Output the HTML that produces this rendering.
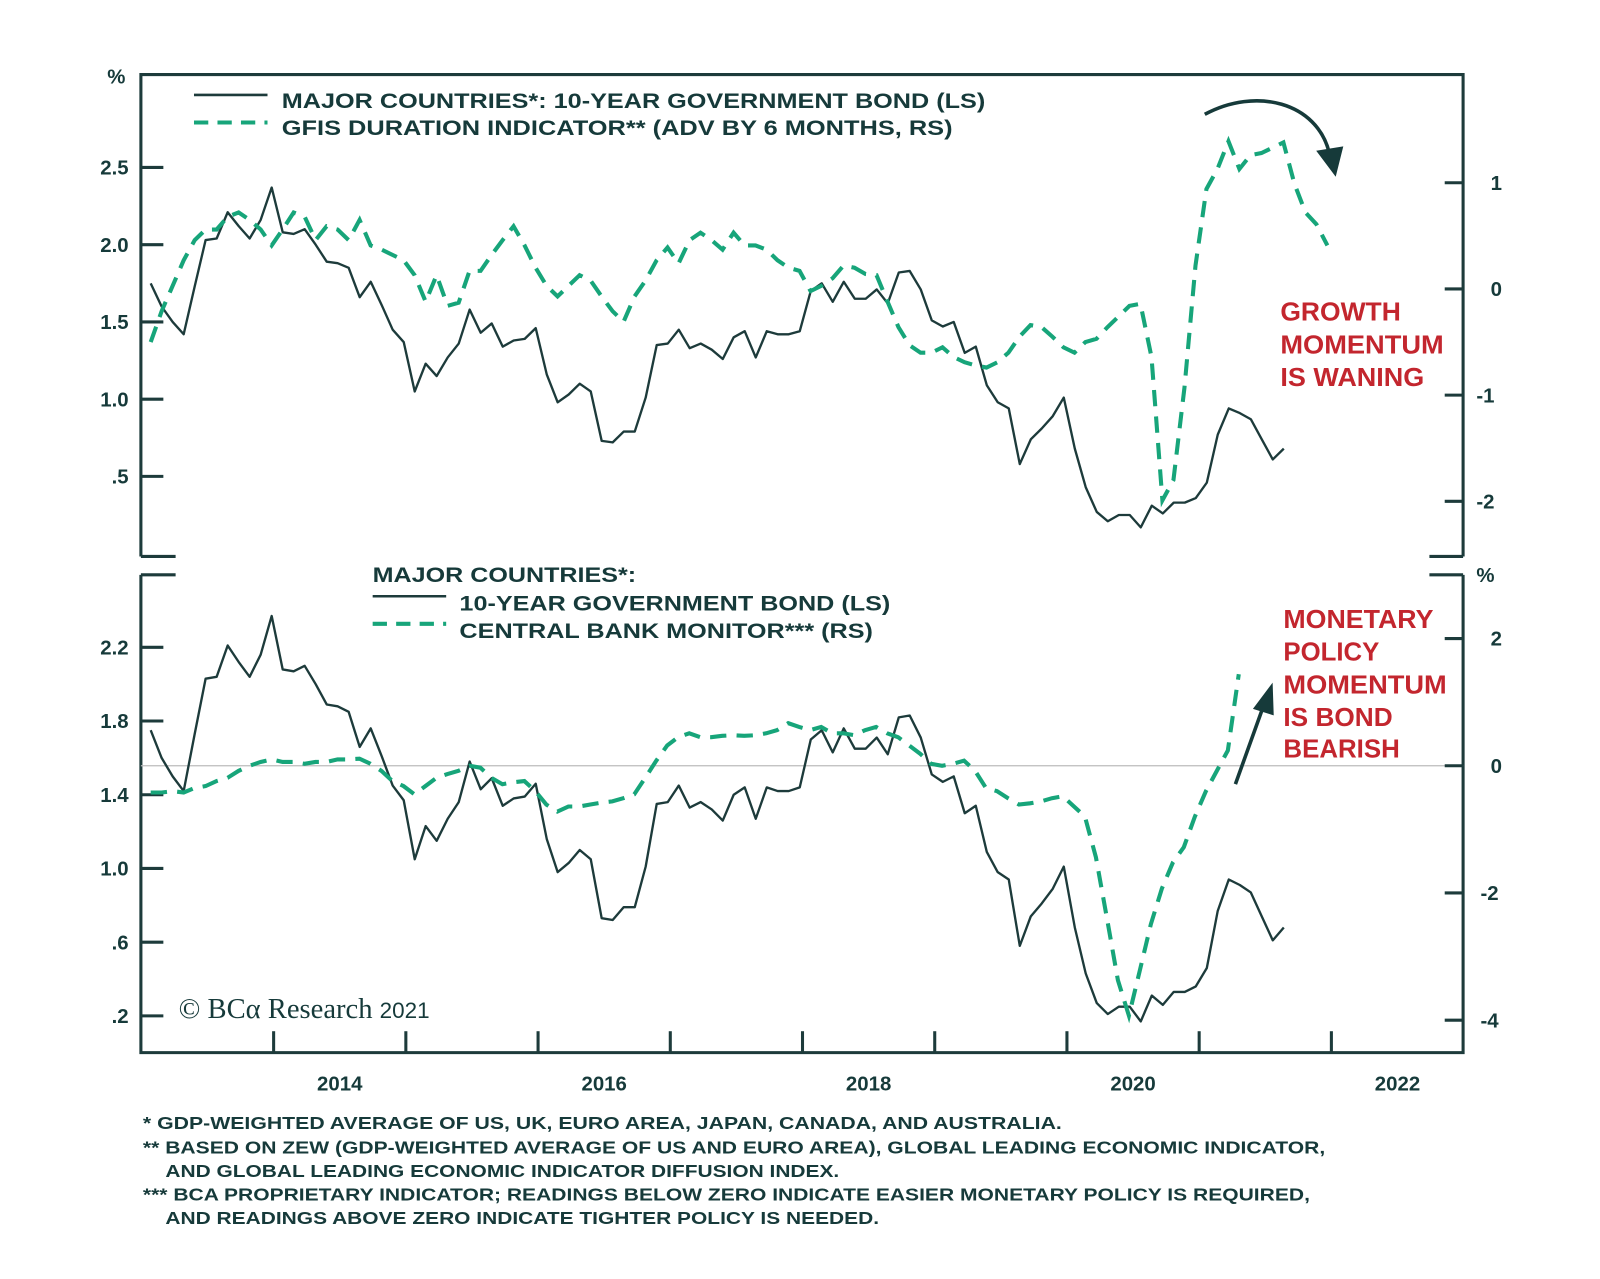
<!DOCTYPE html>
<html><head><meta charset="utf-8">
<style>
html,body{margin:0;padding:0;background:#fff;}
svg{display:block;font-family:"Liberation Sans",sans-serif;}
.ax{fill:#163a3a;font-weight:bold;font-size:20px;}
.lg{fill:#163a3a;font-weight:bold;font-size:21px;}
.fn{fill:#163a3a;font-size:17px;font-weight:bold;}
.red{fill:#c3262e;font-weight:bold;font-size:25px;}
</style></head>
<body>
<svg id="chart" width="1600" height="1279" viewBox="0 0 1600 1279">
<g transform="scale(1.021)">
<g id="frame" stroke="#1d3b3b" stroke-width="3" fill="none">
 <path d="M138,545 L138,73 L1433,73 L1433,545"/>
 <path d="M138,563 L138,1031 L1433,1031 L1433,563"/>
 <path d="M138,545 L172,545 M138,563 L172,563 M1400,545 L1433,545 M1400,563 L1433,563"/>
</g>
<line x1="138" x2="1433" y1="750" y2="750" stroke="#bbb" stroke-width="1.2"/>
<g id="ticks"></g>
<g id="series"></g>
<text class="ax" x="105" y="82">%</text>
<text class="ax" x="1446" y="570">%</text>
<g>
 <line x1="190" x2="262" y1="93" y2="93" stroke="#1d3b3b" stroke-width="2.5"/>
 <line x1="190" x2="262" y1="120" y2="120" stroke="#17a57a" stroke-width="4" stroke-dasharray="14,9"/>
 <text class="lg" x="276" y="106" textLength="689" lengthAdjust="spacingAndGlyphs">MAJOR COUNTRIES*: 10-YEAR GOVERNMENT BOND (LS)</text>
 <text class="lg" x="276" y="132" textLength="657" lengthAdjust="spacingAndGlyphs">GFIS DURATION INDICATOR** (ADV BY 6 MONTHS, RS)</text>
</g>
<g>
 <text class="lg" x="365" y="570" textLength="258" lengthAdjust="spacingAndGlyphs">MAJOR COUNTRIES*:</text>
 <line x1="365" x2="437" y1="584" y2="584" stroke="#1d3b3b" stroke-width="2.5"/>
 <line x1="365" x2="437" y1="611" y2="611" stroke="#17a57a" stroke-width="4" stroke-dasharray="14,9"/>
 <text class="lg" x="450" y="598" textLength="422" lengthAdjust="spacingAndGlyphs">10-YEAR GOVERNMENT BOND (LS)</text>
 <text class="lg" x="450" y="625" textLength="405" lengthAdjust="spacingAndGlyphs">CENTRAL BANK MONITOR*** (RS)</text>
</g>
<g>
 <text class="red" x="1254" y="314" textLength="118" lengthAdjust="spacingAndGlyphs">GROWTH</text>
 <text class="red" x="1254" y="346" textLength="160" lengthAdjust="spacingAndGlyphs">MOMENTUM</text>
 <text class="red" x="1254" y="378" textLength="141" lengthAdjust="spacingAndGlyphs">IS WANING</text>
</g>
<g>
 <text class="red" x="1257" y="615" textLength="147" lengthAdjust="spacingAndGlyphs">MONETARY</text>
 <text class="red" x="1257" y="647" textLength="94" lengthAdjust="spacingAndGlyphs">POLICY</text>
 <text class="red" x="1257" y="679" textLength="160" lengthAdjust="spacingAndGlyphs">MOMENTUM</text>
 <text class="red" x="1257" y="711" textLength="107" lengthAdjust="spacingAndGlyphs">IS BOND</text>
 <text class="red" x="1257" y="742" textLength="114" lengthAdjust="spacingAndGlyphs">BEARISH</text>
</g>
<g fill="none" stroke="#163a3a" stroke-width="3.5">
 <path d="M1180,112 C1230,85 1290,100 1302,150"/>
 <path d="M1290,148 L1308,172 L1315,144 Z" fill="#163a3a" stroke-width="1"/>
</g>
<g stroke="#163a3a" stroke-width="3.5" fill="none">
 <path d="M1210,768 L1238,690"/>
 <path d="M1228,694 L1246,670 L1247,700 Z" fill="#163a3a" stroke-width="1"/>
</g>
<text x="175" y="997" style="font-family:'Liberation Serif',serif;font-size:28px;fill:#163a3a">© BCα Research <tspan style="font-family:'Liberation Sans',sans-serif;font-size:22px">2021</tspan></text>
<g>
 <text class="fn" x="140" y="1106" textLength="900" lengthAdjust="spacingAndGlyphs">*   GDP-WEIGHTED AVERAGE OF US, UK, EURO AREA, JAPAN, CANADA, AND AUSTRALIA.</text>
 <text class="fn" x="140" y="1130" textLength="1158" lengthAdjust="spacingAndGlyphs">**  BASED ON ZEW (GDP-WEIGHTED AVERAGE OF US AND EURO AREA), GLOBAL LEADING ECONOMIC INDICATOR,</text>
 <text class="fn" x="162" y="1153" textLength="660" lengthAdjust="spacingAndGlyphs">AND GLOBAL LEADING ECONOMIC INDICATOR DIFFUSION INDEX.</text>
 <text class="fn" x="140" y="1176" textLength="1143" lengthAdjust="spacingAndGlyphs">*** BCA PROPRIETARY INDICATOR; READINGS BELOW ZERO INDICATE EASIER MONETARY POLICY IS REQUIRED,</text>
 <text class="fn" x="162" y="1199" textLength="699" lengthAdjust="spacingAndGlyphs">AND READINGS ABOVE ZERO INDICATE TIGHTER POLICY IS NEEDED.</text>
</g>
</g>
</svg>
<script>
const bondValues=[1.75,1.60,1.50,1.42,1.73,2.03,2.04,2.21,2.12,2.04,2.16,2.37,2.08,2.07,2.10,2.00,1.89,1.88,1.85,1.66,1.76,1.61,1.45,1.37,1.05,1.23,1.15,1.27,1.36,1.58,1.43,1.49,1.34,1.38,1.39,1.46,1.16,0.98,1.03,1.10,1.05,0.73,0.72,0.79,0.79,1.01,1.35,1.36,1.45,1.33,1.36,1.32,1.26,1.40,1.44,1.27,1.44,1.42,1.42,1.44,1.70,1.75,1.63,1.76,1.65,1.65,1.71,1.62,1.82,1.83,1.71,1.51,1.47,1.50,1.30,1.34,1.09,0.98,0.94,0.58,0.74,0.81,0.89,1.01,0.68,0.43,0.27,0.21,0.25,0.25,0.17,0.31,0.26,0.33,0.33,0.36,0.46,0.77,0.94,0.91,0.87,0.74,0.61,0.68];
const bondStart=2013.07, bondEnd=2021.64;
const gfisValues=[-0.50,-0.21,0.03,0.27,0.46,0.56,0.56,0.68,0.72,0.65,0.56,0.41,0.56,0.72,0.68,0.46,0.59,0.56,0.46,0.65,0.41,0.37,0.32,0.27,0.13,-0.12,0.13,-0.16,-0.13,0.17,0.17,0.32,0.46,0.59,0.41,0.20,0.03,-0.07,0.03,0.13,0.08,-0.07,-0.21,-0.31,-0.07,0.08,0.27,0.39,0.24,0.46,0.53,0.46,0.37,0.53,0.41,0.41,0.37,0.27,0.20,0.17,-0.02,0.03,0.10,0.22,0.20,0.14,0.13,-0.12,-0.36,-0.53,-0.60,-0.60,-0.55,-0.64,-0.69,-0.72,-0.74,-0.69,-0.60,-0.45,-0.34,-0.36,-0.45,-0.55,-0.60,-0.50,-0.47,-0.36,-0.26,-0.16,-0.14,-0.64,-1.99,-1.80,-0.93,0.22,0.94,1.13,1.39,1.13,1.26,1.28,1.33,1.38,0.99,0.72,0.61,0.41];
const gfisStart=2013.07, gfisEnd=2021.97;
const cbmValues=[-0.42,-0.42,-0.40,-0.42,-0.35,-0.32,-0.24,-0.19,-0.08,0.00,0.06,0.10,0.06,0.06,0.03,0.06,0.06,0.10,0.10,0.11,0.03,-0.08,-0.24,-0.32,-0.45,-0.32,-0.19,-0.13,-0.08,0.00,-0.03,-0.19,-0.29,-0.26,-0.24,-0.40,-0.61,-0.72,-0.64,-0.64,-0.61,-0.58,-0.56,-0.51,-0.45,-0.19,0.08,0.32,0.45,0.51,0.45,0.45,0.47,0.48,0.47,0.48,0.51,0.56,0.67,0.61,0.56,0.61,0.51,0.51,0.48,0.56,0.61,0.51,0.45,0.32,0.19,0.03,0.00,0.03,0.08,-0.08,-0.35,-0.40,-0.51,-0.61,-0.59,-0.56,-0.51,-0.48,-0.64,-0.80,-1.44,-2.40,-3.37,-3.93,-3.21,-2.49,-1.93,-1.52,-1.28,-0.80,-0.40,-0.08,0.24,1.44];
const cbmStart=2013.07, cbmEnd=2021.30;
const topLeftTicks=[2.5,2.0,1.5,1.0,0.5];
const topLeftLabels=["2.5","2.0","1.5","1.0",".5"];
const topRightTicks=[1,0,-1,-2];
const botLeftTicks=[2.2,1.8,1.4,1.0,0.6,0.2];
const botLeftLabels=["2.2","1.8","1.4","1.0",".6",".2"];
const botRightTicks=[2,0,-2,-4];
const yearTicks=[2014,2015,2016,2017,2018,2019,2020,2021,2022];
const yearLabels=[2014,2016,2018,2020,2022];

const NS="http://www.w3.org/2000/svg";
const X=t=>268+(t-2014)*129.5;
const yTL=v=>164+(2.5-v)*151.3;
const yTR=v=>283-v*104;
const yBL=v=>634+(2.2-v)*180.5;
const yBR=v=>750-v*62.3;
const ticks=document.getElementById('ticks');
const series=document.getElementById('series');
function mk(tag,attrs,parent){const e=document.createElementNS(NS,tag);for(const k in attrs)e.setAttribute(k,attrs[k]);parent.appendChild(e);return e;}
function txt(x,y,s,anchor){const e=mk('text',{x:x,y:y,'class':'ax','text-anchor':anchor},ticks);e.textContent=s;return e;}
const tk={stroke:'#1d3b3b','stroke-width':3};
topLeftTicks.forEach((v,i)=>{const l=mk('line',Object.assign({x1:138,x2:160,y1:yTL(v),y2:yTL(v)},tk),ticks);


const t=txt(126,yTL(v)+7,topLeftLabels[i],'end');

});
topRightTicks.forEach(v=>{const l=mk('line',Object.assign({x1:1415,x2:1433,y1:yTR(v),y2:yTR(v)},tk),ticks);


const t=txt(v<0?1446:1460,yTR(v)+7,String(v),'start');

});
botLeftTicks.forEach((v,i)=>{const l=mk('line',Object.assign({x1:138,x2:160,y1:yBL(v),y2:yBL(v)},tk),ticks);


const t=txt(126,yBL(v)+7,botLeftLabels[i],'end');

});
botRightTicks.forEach(v=>{const l=mk('line',Object.assign({x1:1415,x2:1433,y1:yBR(v),y2:yBR(v)},tk),ticks);


const t=txt(v<0?1450:1460,yBR(v)+7,String(v),'start');

});
yearTicks.forEach(y=>{const l=mk('line',Object.assign({x1:X(y),x2:X(y),y1:1031,y2:1010},tk),ticks);

});
yearLabels.forEach(y=>{const t=txt(X(y+0.5),1068,String(y),'middle');

});
function pts(vals,s,e,fy){const n=vals.length;return vals.map((v,i)=>X(s+(e-s)*i/(n-1)).toFixed(1)+','+fy(v).toFixed(1)).join(' ');}
const solid={fill:'none',stroke:'#1d3b3b','stroke-width':2.3,'stroke-linejoin':'round'};
const dash={fill:'none',stroke:'#17a57a','stroke-width':4,'stroke-dasharray':'16,10'};
let p=mk('polyline',Object.assign({points:pts(bondValues,bondStart,bondEnd,yTL)},solid),series);


p=mk('polyline',Object.assign({points:pts(gfisValues,gfisStart,gfisEnd,yTR)},dash),series);


p=mk('polyline',Object.assign({points:pts(bondValues,bondStart,bondEnd,yBL)},solid),series);


p=mk('polyline',Object.assign({points:pts(cbmValues,cbmStart,cbmEnd,yBR)},dash),series);


</script>
</body></html>
